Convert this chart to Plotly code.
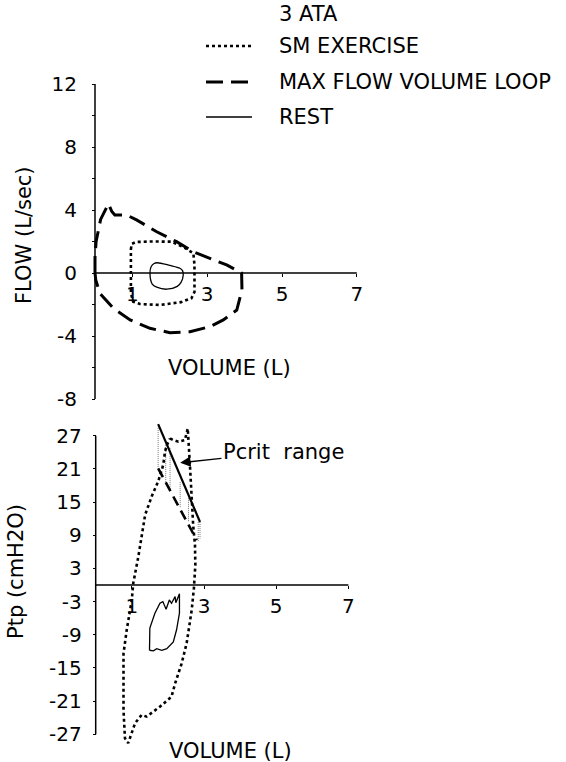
import plotly.graph_objects as go

# ---------------- data ----------------
# Top panel: flow (L/sec) vs volume (L)
mfvl_vol = [0.0, 0.0, 0.03, 0.15, 0.36, 0.45, 0.53, 0.85, 1.11, 1.65, 2.18, 2.63, 3.07, 3.52, 3.92,
            3.93, 3.79, 3.43, 3.07, 2.54, 2.0, 1.47, 0.94, 0.49, 0.13, 0.02, 0.0]
mfvl_flow = [0.0, 1.0, 2.0, 3.4, 4.4, 3.9, 3.68, 3.68, 3.37, 2.62, 1.99, 1.35, 0.93, 0.51, 0.0,
             -1.08, -2.35, -2.98, -3.41, -3.73, -3.79, -3.51, -2.98, -2.24, -1.29, -0.44, 0.0]

ex_vol = [0.96, 0.98, 1.1, 1.5, 2.05, 2.4, 2.63, 2.66, 2.66, 2.58, 2.3, 1.74, 1.2, 1.02, 0.96, 0.96]
ex_flow = [1.5, 1.85, 1.97, 2.0, 1.99, 1.6, 1.25, 0.5, -1.2, -1.6, -1.85, -2.03, -1.97, -1.82, -1.29, 1.5]

rest_vol = [1.47, 1.50, 1.58, 1.66, 2.0, 2.27, 2.34, 2.36, 2.30, 2.2, 1.92, 1.65, 1.53, 1.47]
rest_flow = [0.0, 0.4, 0.6, 0.65, 0.48, 0.3, 0.15, -0.13, -0.6, -0.85, -1.03, -0.9, -0.7, 0.0]

# Bottom panel: Ptp (cmH2O) vs volume (L)
ex_vol2 = [2.06, 2.15, 2.29, 2.47, 2.55, 2.57, 2.61, 2.66, 2.70, 2.75, 2.76, 2.72, 2.66, 2.52, 2.38,
           2.2, 2.1, 1.78, 1.41, 1.27, 1.09, 0.9, 0.81, 0.77, 0.77, 0.77, 0.86, 1.0, 1.04, 1.18,
           1.37, 1.55, 1.73, 1.87, 1.92, 1.97, 2.06]
ex_ptp = [26.5, 26.2, 25.9, 26.2, 28.3, 25.3, 21.7, 15.7, 10.8, 7.2, 3.6, -0.6, -4.5, -10.5, -14.2,
          -17.8, -20.2, -22.0, -23.8, -23.5, -25.0, -28.6, -27.7, -22.6, -16.6, -12.4, -8.1, -2.7, 0.3, 5.1,
          12.7, 16.0, 18.7, 21.7, 24.1, 25.3, 26.5]

rest_vol2 = [1.49, 1.50, 1.64, 1.78, 1.86, 1.95, 2.04, 2.10, 2.20, 2.22, 2.32, 2.32, 2.24, 2.15,
             1.97, 1.83, 1.69, 1.60, 1.49]
rest_ptp = [-11.8, -7.8, -5.1, -3.3, -3.0, -4.4, -2.7, -3.3, -2.1, -3.2, -1.6, -5.1, -8.1, -10.3,
            -11.5, -11.8, -11.5, -11.9, -11.8]

pcrit_hi_vol = [1.73, 2.89]
pcrit_hi_ptp = [29.1, 11.4]
pcrit_lo_vol = [1.73, 2.80]
pcrit_lo_ptp = [21.1, 8.1]
hatch_vol = [1.73, 1.94, 2.06, 2.34, 2.57, 2.84, 2.89]
hatch_top = [28.4, 25.3, 24.8, 18.6, 15.7, 11.4, 11.4]
hatch_bot = [21.2, 18.6, 17.2, 13.9, 11.4, 7.8, 8.4]

flow_ticks = [-8, -6, -4, -2, 0, 2, 4, 6, 8, 10, 12]
flow_ticktext = ["-8", "", "-4", "", "0", "", "4", "", "8", "", "12"]
ptp_ticks = [-27, -21, -15, -9, -3, 3, 9, 15, 21, 27]
ptp_ticktext = ["-27", "-21", "-15", "-9", "-3", "3", "9", "15", "21", "27"]
vol_ticks = [1, 3, 5, 7]

legend_title = "3 ATA"
legend_names = ["SM EXERCISE", "MAX FLOW VOLUME LOOP", "REST"]

# ---------------- layout geometry ----------------
W, H = 566, 762
SPLIT = 415  # pixel row separating the two panels
FONT = "DejaVu Sans, Liberation Sans, Arial, sans-serif"
FS = 20      # tick labels
FT = 21      # titles, legend, note

# top panel mapping
t_x0, t_ppx = 95.0, 37.4
t_y0, t_ppy = 273.0, 15.75
# bottom panel mapping
b_x0, b_ppx = 95.7, 36.1
b_y0, b_ppy = 585.0, 5.53

top_xrange = [(0 - t_x0) / t_ppx, (W - t_x0) / t_ppx]
top_yrange = [(t_y0 - SPLIT) / t_ppy, t_y0 / t_ppy]
bot_xrange = [(0 - b_x0) / b_ppx, (W - b_x0) / b_ppx]
bot_yrange = [(b_y0 - H) / b_ppy, (b_y0 - SPLIT) / b_ppy]

DOT = "3px,3px"
DASH = "17px,8px"

fig = go.Figure()

# top panel traces
fig.add_trace(go.Scatter(x=mfvl_vol, y=mfvl_flow, mode="lines", xaxis="x", yaxis="y",
                         line=dict(color="black", width=3, dash=DASH), showlegend=False))
fig.add_trace(go.Scatter(x=ex_vol, y=ex_flow, mode="lines", xaxis="x", yaxis="y",
                         line=dict(color="black", width=2.6, dash=DOT), showlegend=False))
fig.add_trace(go.Scatter(x=rest_vol, y=rest_flow, mode="lines", xaxis="x", yaxis="y",
                         line=dict(color="black", width=1.3, shape="spline"), showlegend=False))

# bottom panel traces
for xv, yt, yb in zip(hatch_vol, hatch_top, hatch_bot):
    fig.add_trace(go.Scatter(x=[xv, xv], y=[yt, yb], mode="lines", xaxis="x2", yaxis="y2",
                             line=dict(color="#777", width=1, dash="1px,1px"), showlegend=False))
fig.add_trace(go.Scatter(x=ex_vol2, y=ex_ptp, mode="lines", xaxis="x2", yaxis="y2",
                         line=dict(color="black", width=2.6, dash=DOT), showlegend=False))
fig.add_trace(go.Scatter(x=pcrit_hi_vol, y=pcrit_hi_ptp, mode="lines", xaxis="x2", yaxis="y2",
                         line=dict(color="black", width=2.2), showlegend=False))
fig.add_trace(go.Scatter(x=pcrit_lo_vol, y=pcrit_lo_ptp, mode="lines", xaxis="x2", yaxis="y2",
                         line=dict(color="black", width=2.6, dash="10px,6px"), showlegend=False))
fig.add_trace(go.Scatter(x=rest_vol2, y=rest_ptp, mode="lines", xaxis="x2", yaxis="y2",
                         line=dict(color="black", width=1.3), showlegend=False))

axis_common = dict(showgrid=False, zeroline=False, showline=False, ticks="outside",
                   tickcolor="black", tickwidth=1.2, anchor="free", automargin=False,
                   tickfont=dict(family=FONT, size=FS, color="black"))
# inner half of the crossing tick marks
inner_common = dict(axis_common, ticks="inside", showticklabels=False, ticklen=3)

fig.update_layout(
    width=W, height=H, margin=dict(l=0, r=0, t=0, b=0),
    paper_bgcolor="white", plot_bgcolor="white",
    font=dict(family=FONT, size=FS, color="black"),
    xaxis=dict(axis_common, domain=[0, 1], range=top_xrange, tickvals=vol_ticks, ticklen=3,
               position=1 - t_y0 / H),
    yaxis=dict(axis_common, domain=[1 - SPLIT / H, 1], range=top_yrange, tickvals=flow_ticks,
               ticktext=flow_ticktext, ticklen=3, ticklabelstandoff=11, position=t_x0 / W),
    xaxis2=dict(axis_common, domain=[0, 1], range=bot_xrange, tickvals=vol_ticks, ticklen=3,
                position=1 - b_y0 / H),
    yaxis2=dict(axis_common, domain=[0, 1 - SPLIT / H], range=bot_yrange, tickvals=ptp_ticks,
                ticktext=ptp_ticktext, ticklen=3, ticklabelstandoff=7, position=b_x0 / W),
    xaxis3=dict(inner_common, overlaying="x", range=top_xrange, tickvals=vol_ticks,
                position=1 - t_y0 / H),
    yaxis3=dict(inner_common, overlaying="y", range=top_yrange, tickvals=flow_ticks,
                position=t_x0 / W),
    xaxis4=dict(inner_common, overlaying="x2", range=bot_xrange, tickvals=vol_ticks,
                position=1 - b_y0 / H),
    yaxis4=dict(inner_common, overlaying="y2", range=bot_yrange, tickvals=ptp_ticks,
                position=b_x0 / W),
)

# axis lines
line_style = dict(color="black", width=1.5)
fig.add_shape(type="line", xref="x", yref="y", x0=0, x1=7, y0=0, y1=0, line=line_style)
fig.add_shape(type="line", xref="x", yref="y", x0=0, x1=0, y0=-8, y1=12, line=line_style)
fig.add_shape(type="line", xref="x2", yref="y2", x0=0, x1=7, y0=0, y1=0, line=line_style)
fig.add_shape(type="line", xref="x2", yref="y2", x0=0, x1=0, y0=-27, y1=27, line=line_style)

# axis titles
centered = dict(xanchor="center", yanchor="middle", showarrow=False, font=dict(size=FT))
fig.add_annotation(text="FLOW (L/sec)", xref="paper", yref="paper", x=24 / W, y=1 - 235 / H,
                   textangle=-90, **centered)
fig.add_annotation(text="VOLUME (L)", xref="paper", yref="paper", x=229 / W, y=1 - 368 / H,
                   **centered)
fig.add_annotation(text="Ptp (cmH2O)", xref="paper", yref="paper", x=16 / W, y=1 - 572 / H,
                   textangle=-90, **centered)
fig.add_annotation(text="VOLUME (L)", xref="paper", yref="paper", x=230 / W, y=1 - 751 / H,
                   **centered)

# Pcrit range arrow
fig.add_annotation(text="Pcrit  range", xref="x2", yref="y2", x=2.34, y=22.1,
                   axref="x2", ayref="y2", ax=5.2, ay=24.1, showarrow=True,
                   arrowhead=2, arrowsize=1.6, arrowwidth=1.3, arrowcolor="black",
                   font=dict(size=FT))

# manual legend
leg_x0, leg_x1, leg_tx = 206 / W, 252 / W, 277 / W
fig.add_annotation(text=legend_title, xref="paper", yref="paper", x=leg_tx, y=1 - 14 / H,
                   xanchor="left", yanchor="middle", showarrow=False, font=dict(size=FT))
leg_rows = [46, 82, 117]
leg_lines = [dict(color="black", width=2.6, dash=DOT),
             dict(color="black", width=3, dash=DASH),
             dict(color="black", width=1.5)]
for name, row, ls in zip(legend_names, leg_rows, leg_lines):
    fig.add_shape(type="line", xref="paper", yref="paper", x0=leg_x0, x1=leg_x1,
                  y0=1 - row / H, y1=1 - row / H, line=ls)
    fig.add_annotation(text=name, xref="paper", yref="paper", x=leg_tx, y=1 - row / H,
                       xanchor="left", yanchor="middle", showarrow=False, font=dict(size=FT))

fig.write_html("out.html")
